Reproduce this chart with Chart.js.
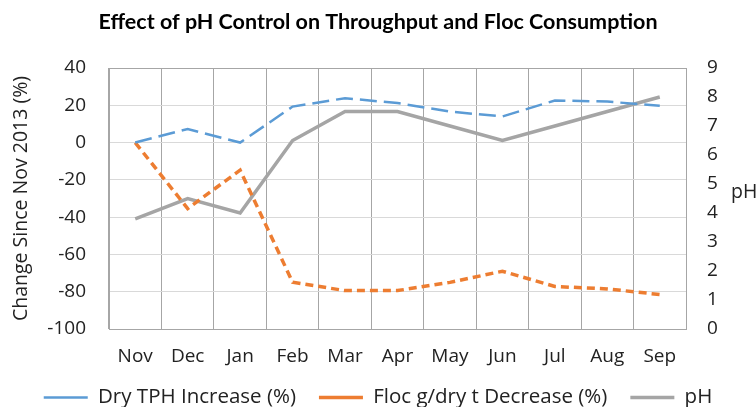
<!DOCTYPE html>
<html>
<head>
<meta charset="utf-8">
<script src="https://cdn.jsdelivr.net/npm/chart.js@4"></script>
<style>
  html, body { margin: 0; padding: 0; background: #fff; }
  #wrap { width: 756px; height: 407px; }
</style>
</head>
<body>
<div id="wrap"><canvas id="chart" width="756" height="407"></canvas></div>
<script>
const months = ['Nov', 'Dec', 'Jan', 'Feb', 'Mar', 'Apr', 'May', 'Jun', 'Jul', 'Aug', 'Sep'];
const tphIncrease = [0, 7.3, 0, 19.3, 23.8, 21.2, 16.6, 14, 22.6, 22, 19.7];
const flocDecrease = [0, -35.4, -14.8, -74.9, -79.4, -79.4, -75, -69, -77.2, -78.5, -81.5];
const phValues = [3.8, 4.5, 4.0, 6.5, 7.5, 7.5, 7.0, 6.5, 7.0, 7.5, 8.0];

const textColor = '#222';
const tickFont = { family: 'Open Sans', size: 19 };

// draws the horizontal "pH" label beside the right axis
const phLabel = {
  id: 'phLabel',
  afterDraw(chart) {
    const ctx = chart.ctx;
    ctx.save();
    ctx.font = '19.5px "Open Sans"';
    ctx.fillStyle = textColor;
    ctx.textAlign = 'left';
    ctx.textBaseline = 'middle';
    ctx.fillText('pH', 731, 192);
    ctx.restore();
  }
};

// month labels hang below the short x axis box, so let them draw past it
const roomForMonths = {
  id: 'roomForMonths',
  afterLayout(chart) {
    chart.scales.x.bottom = chart.scales.x.top + 50;
  }
};

new Chart(document.getElementById('chart'), {
  type: 'line',
  data: {
    labels: months,
    datasets: [
      {
        label: 'Dry TPH Increase (%)',
        data: tphIncrease,
        borderColor: '#5B9BD5',
        backgroundColor: '#5B9BD5',
        borderWidth: 2.5,
        borderDash: [17, 7],
        pointRadius: 0,
        tension: 0,
        yAxisID: 'y'
      },
      {
        label: 'Floc g/dry t Decrease (%)',
        data: flocDecrease,
        borderColor: '#ED7D31',
        backgroundColor: '#ED7D31',
        borderWidth: 3.5,
        borderDash: [8, 5],
        pointRadius: 0,
        tension: 0,
        yAxisID: 'y'
      },
      {
        label: 'pH',
        data: phValues,
        borderColor: '#A5A5A5',
        backgroundColor: '#A5A5A5',
        borderWidth: 3.5,
        pointRadius: 0,
        tension: 0,
        yAxisID: 'y1'
      }
    ]
  },
  options: {
    responsive: false,
    animation: false,
    layout: { padding: { left: 0, right: 0, top: 0, bottom: -10.75 } },
    plugins: {
      title: {
        display: true,
        text: 'Effect of pH Control on Throughput and Floc Consumption',
        color: '#000',
        font: { family: 'Lato', size: 21.5, weight: 'bold' },
        padding: { top: 9, bottom: 33.2 }
      },
      legend: {
        position: 'bottom',
        labels: {
          color: textColor,
          font: { family: 'Open Sans', size: 20.5 },
          usePointStyle: true,
          pointStyle: 'line',
          pointStyleWidth: 44,
          padding: 23
        }
      },
      tooltip: { enabled: false }
    },
    scales: {
      x: {
        offset: true,
        grid: { offset: true, color: '#A6A6A6', drawTicks: false },
        border: { color: '#A6A6A6' },
        ticks: { color: textColor, font: tickFont, padding: 16, maxRotation: 0 },
        afterFit(scale) { scale.height = 35.25; }
      },
      y: {
        position: 'left',
        min: -100,
        max: 40,
        ticks: { stepSize: 20, color: textColor, font: tickFont, padding: 23 },
        grid: {
          drawTicks: false,
          color: ctx => (ctx.tick && (ctx.tick.value === 40 || ctx.tick.value === -100)) ? '#A6A6A6' : '#D9D9D9'
        },
        border: { color: '#A6A6A6' },
        title: {
          display: true,
          text: 'Change Since Nov 2013 (%)',
          color: textColor,
          font: { family: 'Open Sans', size: 19.5 },
          padding: { top: 10, bottom: 0 }
        },
        afterFit(scale) { scale.width = 109; }
      },
      y1: {
        position: 'right',
        min: 0,
        max: 9,
        ticks: { stepSize: 1, color: textColor, font: tickFont, padding: 21 },
        grid: { drawOnChartArea: false, drawTicks: false },
        border: { color: '#A6A6A6' },
        afterFit(scale) { scale.width = 70; }
      }
    }
  },
  plugins: [phLabel, roomForMonths]
});
</script>
</body>
</html>
